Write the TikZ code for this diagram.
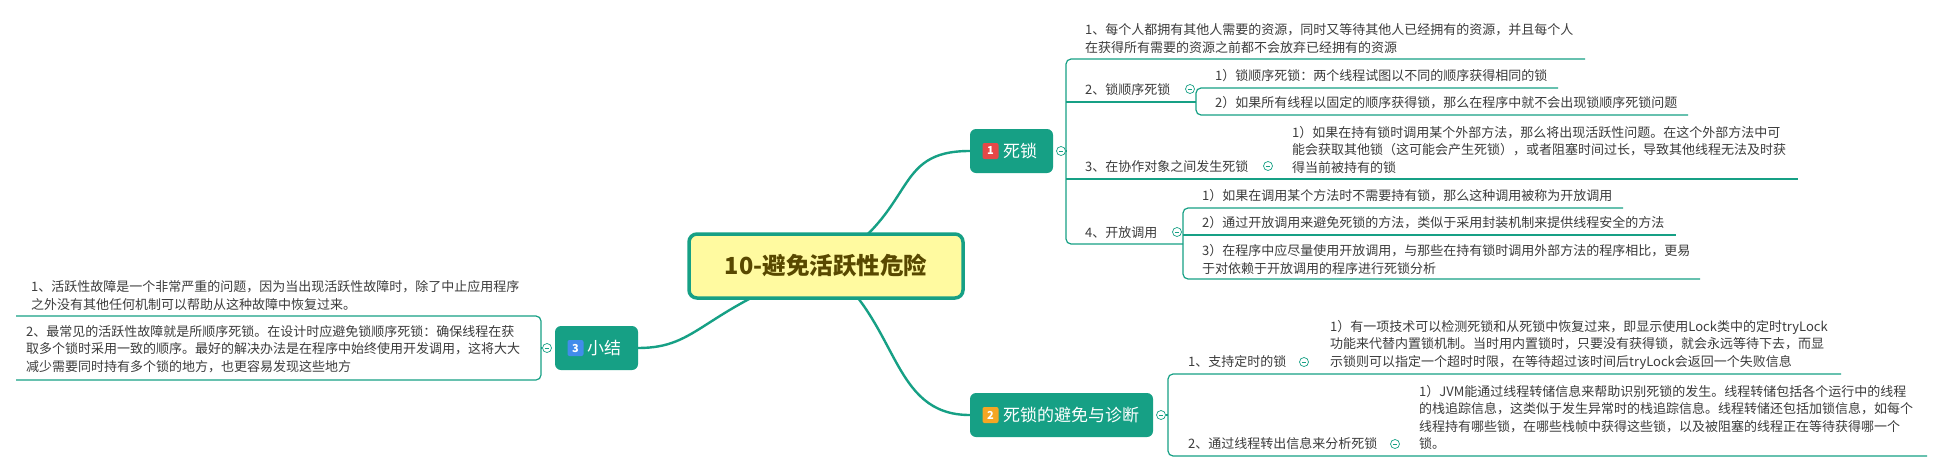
\documentclass[tikz,border=0pt]{standalone}
\usepackage{fontspec}
\setmainfont{Noto Sans CJK SC}
\usetikzlibrary{backgrounds}
\definecolor{linec}{RGB}{22,160,133}
\definecolor{topicc}{RGB}{22,160,133}
\definecolor{centfill}{RGB}{255,250,160}
\definecolor{centtext}{RGB}{88,72,0}
\definecolor{subtext}{RGB}{60,60,60}
\definecolor{badgered}{RGB}{230,72,72}
\definecolor{badgeorange}{RGB}{245,166,35}
\definecolor{badgeblue}{RGB}{66,140,235}
\tikzset{
  central/.style={draw=linec, line width=3.5pt, fill=centfill, rounded corners=8pt,
    minimum width=274pt, minimum height=64pt, inner sep=0pt, text=centtext,
    font=\fontsize{23.5}{28}\selectfont\bfseries},
  topic/.style={fill=topicc, rounded corners=6pt, inner sep=0pt, minimum height=44pt},
  topictext/.style={anchor=west, inner sep=0pt, text=white, font=\fontsize{17}{20}\selectfont},
  badge/.style={rounded corners=2pt, minimum size=16pt, inner sep=0pt, text=white,
    font=\fontsize{11}{12}\selectfont\bfseries},
  sub/.style={anchor=west, inner sep=0pt, align=left, text=subtext,
    font=\fontsize{13}{17.5}\selectfont},
  fold/.style={circle, draw=linec, fill=white, inner sep=0pt, minimum size=9pt, line width=0.7pt,
    path picture={\draw[linec, line width=0.7pt] ([xshift=-2.3pt]path picture bounding box.center) -- ([xshift=2.3pt]path picture bounding box.center);}},
  conn/.style={draw=linec, line width=2.4pt},
  thin/.style={draw=linec, line width=1.2pt, rounded corners=5pt},
}
\begin{document}
\begin{tikzpicture}[x=1pt,y=-1pt]
\useasboundingbox (0,0) rectangle (1942,472);

% central
\node[central] (cen) at (826,266) {10-避免活跃性危险};

% topic 1
\node[topic, minimum width=83pt] (t1) at (1011.5,151) {};
\node[badge, fill=badgered] (t1b) at (990.5,151) {1};
\node[topictext] (t1t) at (1003,151) {死锁};
\node[fold] (t1f) at (1061,151) {};

% topic 2
\node[topic, minimum width=183pt] (t2) at (1061.5,415) {};
\node[badge, fill=badgeorange] (t2b) at (990.5,415) {2};
\node[topictext] (t2t) at (1003,415) {死锁的避免与诊断};
\node[fold] (t2f) at (1161,415) {};

% topic 3
\node[topic, minimum width=83pt] (t3) at (596.5,348) {};
\node[badge, fill=badgeblue] (t3b) at (575.5,348) {3};
\node[topictext] (t3t) at (587,348) {小结};
\node[fold] (t3f) at (547,348) {};

% topic 1 children
\node[sub] (c1) at (1085,38.5) {1、每个人都拥有其他人需要的资源，同时又等待其他人已经拥有的资源，并且每个人\\在获得所有需要的资源之前都不会放弃已经拥有的资源};
\node[sub] (c2) at (1085,90) {2、锁顺序死锁};
\node[sub] (g21) at (1215,76) {1）锁顺序死锁：两个线程试图以不同的顺序获得相同的锁};
\node[sub] (g22) at (1215,103) {2）如果所有线程以固定的顺序获得锁，那么在程序中就不会出现锁顺序死锁问题};
\node[sub] (c3) at (1085,167) {3、在协作对象之间发生死锁};
\node[sub] (g31) at (1292,149.5) {1）如果在持有锁时调用某个外部方法，那么将出现活跃性问题。在这个外部方法中可\\能会获取其他锁（这可能会产生死锁），或者阻塞时间过长，导致其他线程无法及时获\\得当前被持有的锁};
\node[sub] (c4) at (1085,233) {4、开放调用};
\node[sub] (g41) at (1202,196) {1）如果在调用某个方法时不需要持有锁，那么这种调用被称为开放调用};
\node[sub] (g42) at (1202,223) {2）通过开放调用来避免死锁的方法，类似于采用封装机制来提供线程安全的方法};
\node[sub] (g43) at (1202,259.5) {3）在程序中应尽量使用开放调用，与那些在持有锁时调用外部方法的程序相比，更易\\于对依赖于开放调用的程序进行死锁分析};

% topic 2 children
\node[sub] (d1) at (1188,362) {1、支持定时的锁};
\node[sub] (h11) at (1330,344.5) {1）有一项技术可以检测死锁和从死锁中恢复过来，即显示使用Lock类中的定时tryLock\\功能来代替内置锁机制。当时用内置锁时，只要没有获得锁，就会永远等待下去，而显\\示锁则可以指定一个超时时限，在等待超过该时间后tryLock会返回一个失败信息};
\node[sub] (d2) at (1188,444) {2、通过线程转出信息来分析死锁};
\node[sub] (h21) at (1419,417.5) {1）JVM能通过线程转储信息来帮助识别死锁的发生。线程转储包括各个运行中的线程\\的栈追踪信息，这类似于发生异常时的栈追踪信息。线程转储还包括加锁信息，如每个\\线程持有哪些锁，在哪些栈帧中获得这些锁，以及被阻塞的线程正在等待获得哪一个\\锁。};

% topic 3 children
\node[sub] (e1) at (31,295.5) {1、活跃性故障是一个非常严重的问题，因为当出现活跃性故障时，除了中止应用程序\\之外没有其他任何机制可以帮助从这种故障中恢复过来。};
\node[sub] (e2) at (26,349) {2、最常见的活跃性故障就是所顺序死锁。在设计时应避免锁顺序死锁：确保线程在获\\取多个锁时采用一致的顺序。最好的解决办法是在程序中始终使用开发调用，这将大大\\减少需要同时持有多个锁的地方，也更容易发现这些地方};

\begin{scope}[on background layer]
\fill[white] (0,0) rectangle (1942,472);
% main connectors
\draw[conn] (cen.center) .. controls (920,210) and (890,151) .. (t1.west);
\draw[conn] (cen.center) .. controls (900,322) and (890,415) .. (t2.west);
\draw[conn] (cen.center) .. controls (700,310) and (700,348) .. (t3.east);

% topic 1 structure
\coordinate (s1t) at (1066,59);
\coordinate (s1b) at (1066,244);
\draw[thin] (1585,59) -- (s1t) -- (s1b) -- (1183,244);
\draw[thin] (t1f.east) -- (1066,151);
\draw[thin] (1066,102) -- (1196,102);
\draw[thin] (1558,88) -- (1196,88) -- (1196,115) -- (1688,115);
\draw[thin] (1066,179) -- (1798,179);
\draw[thin] (1623,208) -- (1183,208) -- (1183,279) -- (1700,279);
\draw[thin] (1183,235) -- (1676,235);

% topic 2 structure
\draw[thin] (1841,374) -- (1168,374) -- (1168,456) -- (1927,456);
\draw[thin] (t2f.east) -- (1168,415);

% topic 3 structure
\draw[thin] (16,316) -- (541,316) -- (541,380) -- (16,380);
\draw[thin] (t3f.west) -- (541,348);
\end{scope}

% fold markers on children
\node[fold] (c2f) at (1190,89) {};
\node[fold] (c3f) at (1268,166) {};
\node[fold] (c4f) at (1177,232) {};
\node[fold] (d1f) at (1304,362) {};
\node[fold] (d2f) at (1395,444) {};
\end{tikzpicture}
\end{document}
